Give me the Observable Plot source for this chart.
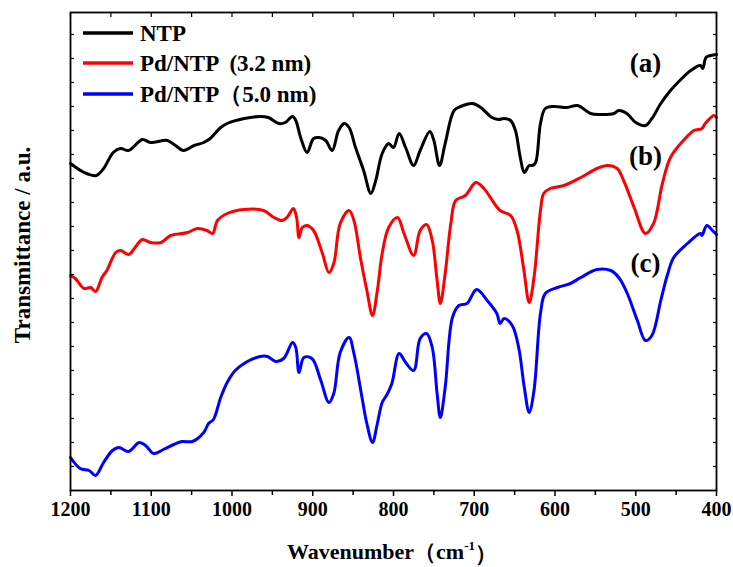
<!DOCTYPE html>
<html><head><meta charset="utf-8">
<script src="https://cdn.jsdelivr.net/npm/d3@7"></script>
<script src="https://cdn.jsdelivr.net/npm/@observablehq/plot@0.6"></script>
<style>
body{margin:0;background:#fff}
#chart{width:733px;height:567px}
</style>
</head><body><div id="chart"></div>
<script>
// Series names and colours
const seriesNames = ["NTP", "Pd/NTP  (3.2 nm)", "Pd/NTP（5.0 nm)"];
const seriesColors = ["#000000", "#ff0000", "#0000ff"];

// [wavenumber (cm-1), transmittance (a.u., offset)]
const ntp = [
 [1200,327],[1183,318],[1168,315],[1159,322],[1147,338],[1138,342],[1128,340],[1111,351],[1101,348],
 [1080,350],[1070,345],[1060,340],[1047,345],[1035,348],[1027,352],[1014,363],[1006,367],[985,372],
 [965,374],[955,373],[942,367],[934,368],[925,374],[921,370],[915,353],[907,338],[899,352],[892,353],
 [884,350],[876,340],[868,360],[861,367],[855,363],[847,343],[837,320],[828,297],[822,310],[814,337],
 [806,347],[800,343],[793,357],[785,343],[775,325],[767,340],[755,359],[750,350],[743,325],[736,347],
 [725,380],[717,384],[702,387],[692,383],[678,373],[670,371],[663,372],[655,370],[649,360],[643,333],
 [638,318],[632,325],[628,325],[624,328],[618,367],[612,382],[601,384],[585,383],[572,385],[556,377],
 [544,376],[527,377],[521,380],[511,377],[500,368],[488,365],[480,372],[469,387],[457,400],[449,407],
 [432,420],[420,425],[417,422],[413,433],[407,435],[400,436]
];
const pd32 = [
 [1200,215],[1194,212],[1183,202],[1175,203],[1169,199],[1161,213],[1155,220],[1144,238],[1138,240],
 [1128,236],[1120,243],[1111,251],[1101,248],[1088,248],[1076,255],[1055,258],[1043,262],[1031,260],
 [1024,257],[1018,270],[1006,277],[985,281],[961,280],[948,273],[938,270],[932,273],[924,282],[920,273],
 [917,253],[913,263],[907,265],[899,260],[888,237],[880,218],[874,227],[866,267],[855,280],[849,270],
 [841,233],[833,200],[826,175],[820,200],[814,237],[806,263],[795,273],[787,257],[775,235],[767,260],
 [759,266],[752,250],[746,210],[742,187],[736,217],[729,267],[723,290],[711,295],[698,308],[688,302],
 [680,293],[668,280],[655,275],[647,260],[639,223],[632,188],[626,213],[618,280],[614,297],[606,302],
 [589,305],[568,313],[548,322],[535,325],[523,322],[515,310],[502,283],[488,257],[478,267],[467,307],
 [457,333],[441,350],[428,360],[418,362],[414,367],[403,375],[400,373]
];
const pd50 = [
 [1200,33],[1188,22],[1177,20],[1169,15],[1159,28],[1148,40],[1140,43],[1128,39],[1115,48],[1107,45],
 [1097,37],[1085,41],[1072,46],[1062,49],[1049,49],[1035,58],[1029,67],[1023,71],[1014,93],[1006,108],
 [996,120],[981,129],[965,134],[956,134],[946,129],[936,132],[925,148],[921,143],[917,118],[911,133],
 [901,132],[890,110],[880,88],[874,97],[866,138],[855,153],[849,137],[839,93],[833,67],[826,48],
 [820,67],[814,88],[808,96],[802,107],[793,137],[785,128],[775,120],[767,152],[759,157],[752,143],
 [746,97],[742,73],[736,103],[727,173],[719,185],[709,187],[697,201],[684,190],[672,177],[668,167],
 [663,172],[653,165],[645,143],[638,103],[632,78],[626,100],[618,177],[612,197],[597,203],[581,207],
 [568,213],[548,221],[531,220],[521,213],[511,198],[498,170],[488,150],[480,155],[469,190],[461,215],
 [453,233],[436,247],[420,257],[418,255],[412,265],[405,260],[400,256]
];

// Curve labels
const curveLabels = ["(a)", "(b)", "(c)"];
const curveLabelWave = [488, 488, 488];
const curveLabelT = [427, 334, 227];

// Axis ticks
const majorTicks = d3.range(400, 1201, 100);
const minorTicks = d3.range(450, 1200, 100);
const allTicks = d3.range(400, 1201, 50);
const yTicks = d3.range(24, 478, 24);

const allSeries = [ntp, pd32, pd50];
const rows = allSeries.flatMap((pts, i) => pts.map(([w, t]) => ({series: seriesNames[i], w, t})));
const labelRows = curveLabels.map((l, i) => ({l, w: curveLabelWave[i], t: curveLabelT[i]}));

const font = "'Liberation Serif', 'Times New Roman', serif";

const chart = Plot.plot({
  width: 733, height: 567,
  marginLeft: 70, marginRight: 17, marginTop: 12, marginBottom: 77,
  style: {fontFamily: font, fontWeight: "bold", background: "#fff", color: "#000"},
  x: {domain: [1200, 400], label: null},
  y: {domain: [0, 478], label: null},
  color: {domain: seriesNames, range: seriesColors},
  marks: [
    Plot.lineY(rows, {x: "w", y: "t", z: "series", stroke: "series", strokeWidth: 3, curve: "catmull-rom", strokeLinejoin: "round"}),
    Plot.text(labelRows, {x: "w", y: "t", text: "l", fontSize: 27, fontWeight: "bold", fill: "#000"}),
    Plot.axisX({ticks: majorTicks, tickFormat: d => String(d), tickSize: 6, tickPadding: 5, fontSize: 20, strokeWidth: 1.5}),
    Plot.axisX({ticks: minorTicks, tickSize: 5, text: null, strokeWidth: 1.5}),
    Plot.axisX({anchor: "top", ticks: allTicks, tickSize: -4, text: null, strokeWidth: 1.2}),
    Plot.axisY({anchor: "left", ticks: yTicks, tickSize: -4, text: null, strokeWidth: 1.2}),
    Plot.axisY({anchor: "right", ticks: yTicks, tickSize: -4, text: null, strokeWidth: 1.2}),
    Plot.frame({stroke: "#000", strokeWidth: 1.8})
  ]
});

const svg = d3.select(chart);
// Legend
const legend = svg.append("g").attr("font-family", font).attr("font-weight", "bold").attr("font-size", 23)
  .attr("text-anchor", "start");
const legendY = [33, 63, 94];
seriesNames.forEach((name, i) => {
  legend.append("line").attr("x1", 83).attr("x2", 133).attr("y1", legendY[i]).attr("y2", legendY[i])
    .attr("stroke", seriesColors[i]).attr("stroke-width", 3.5);
  legend.append("text").attr("x", 140).attr("y", legendY[i]).attr("dy", "0.35em").attr("text-anchor", "start")
    .attr("fill", "#000").attr("xml:space", "preserve").style("white-space", "pre").text(name);
});
// Axis titles
const xt = svg.append("text").attr("x", 392).attr("y", 551).attr("dy", "0.35em").attr("text-anchor", "middle")
  .attr("font-family", font).attr("font-weight", "bold").attr("font-size", 22).attr("fill", "#000");
xt.append("tspan").text("Wavenumber（cm");
xt.append("tspan").attr("font-size", 13).attr("dy", "-0.65em").text("-1");
xt.append("tspan").attr("dy", "0.5em").text("）");
svg.append("text").attr("transform", "translate(22,245) rotate(-90)").attr("dy", "0.35em").attr("text-anchor", "middle")
  .attr("font-family", font).attr("font-weight", "bold").attr("font-size", 23).attr("fill", "#000")
  .text("Transmittance / a.u.");

document.getElementById("chart").appendChild(chart);
</script>
</body></html>
